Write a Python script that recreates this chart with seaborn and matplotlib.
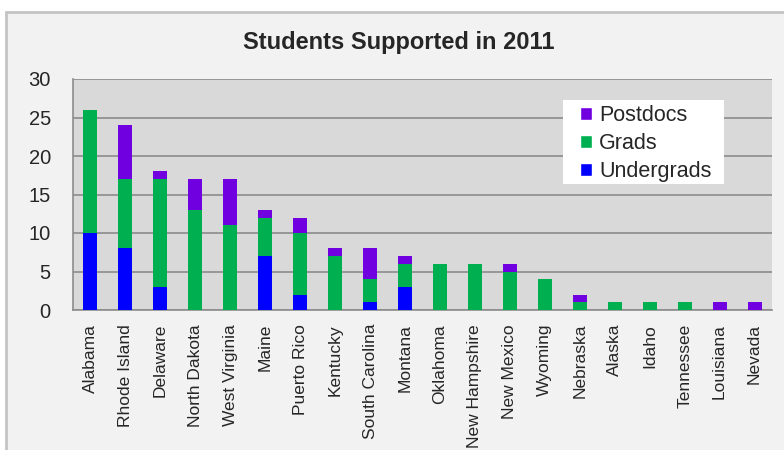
import matplotlib
matplotlib.use("Agg")
import matplotlib.pyplot as plt
import seaborn as sns
import numpy as np
import pandas as pd
from matplotlib.patches import Patch, Rectangle

states = ["Alabama", "Rhode Island", "Delaware", "North Dakota", "West Virginia",
          "Maine", "Puerto Rico", "Kentucky", "South Carolina", "Montana",
          "Oklahoma", "New Hampshire", "New Mexico", "Wyoming", "Nebraska",
          "Alaska", "Idaho", "Tennessee", "Louisiana", "Nevada"]
undergrads = [10, 8, 3, 0, 0, 7, 2, 0, 1, 3, 0, 0, 0, 0, 0, 0, 0, 0, 0, 0]
grads      = [16, 9, 14, 13, 11, 5, 8, 7, 3, 3, 6, 6, 5, 4, 1, 1, 1, 1, 0, 0]
postdocs   = [0, 7, 1, 4, 6, 1, 2, 1, 4, 1, 0, 0, 1, 0, 1, 0, 0, 0, 1, 1]

c_post = "#7000e0"
c_grad = "#00b050"
c_under = "#0000ff"

sns.set_style("white")
plt.rcParams["font.family"] = ["Liberation Sans", "DejaVu Sans"]

df = pd.DataFrame({"state": states, "U": undergrads, "G": grads, "P": postdocs})
df["UG"] = df["U"] + df["G"]
df["UGP"] = df["UG"] + df["P"]

fig = plt.figure(figsize=(7.84, 4.5), dpi=100)
fig.patch.set_facecolor("white")
frame = Rectangle((6 / 784, -0.05), 1.2, 1 - 11.5 / 450 + 0.05, transform=fig.transFigure,
                  facecolor="#f2f2f2", edgecolor="#c4c4c4", linewidth=2.0, zorder=-10)
fig.patches.append(frame)

ax = fig.add_axes([73 / 784, 1 - 310 / 450, (772 - 73) / 784, (310 - 79) / 450])
ax.set_facecolor("#d9d9d9")

sns.barplot(data=df, x="state", y="UGP", color=c_post, width=0.4, saturation=1,
            linewidth=0, ax=ax, zorder=3)
sns.barplot(data=df, x="state", y="UG", color=c_grad, width=0.4, saturation=1,
            linewidth=0, ax=ax, zorder=4)
sns.barplot(data=df, x="state", y="U", color=c_under, width=0.4, saturation=1,
            linewidth=0, ax=ax, zorder=5)

ax.set_ylim(0, 30)
ax.set_xlim(-0.5, len(states) - 0.5)
ax.set_yticks(range(0, 31, 5))
ax.yaxis.grid(True, color="#8c8c8c", linewidth=1.2, zorder=1)
ax.set_axisbelow(True)
ax.set_xlabel("")
ax.set_ylabel("")

for s in ["top", "right"]:
    ax.spines[s].set_visible(False)
for s in ["left", "bottom"]:
    ax.spines[s].set_color("#8c8c8c")
    ax.spines[s].set_linewidth(1.2)

ax.set_xticks(range(len(states)))
ax.set_xticklabels(states, rotation=90, fontsize=12.5)
ax.tick_params(axis="x", which="major", length=0, pad=10)
ax.set_xticks(np.arange(-0.5, len(states), 1.0), minor=True)
ax.tick_params(axis="x", which="minor", length=6, width=1.2, color="#8c8c8c", direction="out")
ax.tick_params(axis="y", length=7, width=1.2, color="#8c8c8c", labelsize=14.5, pad=9)

fig.text(399 / 784, 1 - 43 / 450, "Students Supported in 2011", ha="center", va="center",
         fontsize=17, fontweight="bold")

# white legend box
ax.add_patch(Rectangle((0.701, 0.545), 0.230, 0.364, transform=ax.transAxes,
                       facecolor="white", edgecolor="none", zorder=9))

handles = [Patch(facecolor=c_post, label="Postdocs"),
           Patch(facecolor=c_grad, label="Grads"),
           Patch(facecolor=c_under, label="Undergrads")]
leg = ax.legend(handles=handles, loc="upper left", bbox_to_anchor=(0.725, 0.889),
                fontsize=15.5, frameon=False,
                handlelength=0.55, handleheight=0.55, handletextpad=0.35,
                labelspacing=0.34, borderpad=0, borderaxespad=0)
leg.set_zorder(10)

fig.savefig("out.png", dpi=100)
